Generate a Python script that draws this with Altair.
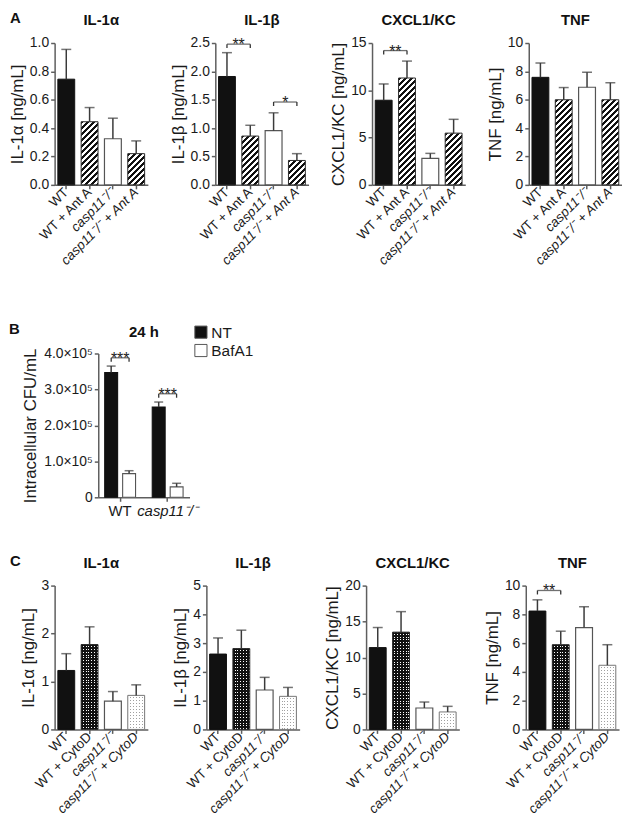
import altair as alt
import pandas as pd

FONT = "Liberation Sans"
AXC = "#5e5e5e"
TXT = "#1a1a1a"
BAR_EDGE = "#2a2a2a"

# ---------------- data ----------------
A_CATS = ["WT", "WT + Ant A", "casp11⁻/⁻", "casp11⁻/⁻ + Ant A"]
C_CATS = ["WT", "WT + CytoD", "casp11⁻/⁻", "casp11⁻/⁻ + CytoD"]

A_IL1A = [0.745, 0.445, 0.325, 0.22]
A_IL1A_UP = [0.955, 0.545, 0.47, 0.31]
A_IL1B = [1.91, 0.86, 0.955, 0.43]
A_IL1B_UP = [2.33, 1.05, 1.27, 0.55]
A_CXCL1 = [8.95, 11.3, 2.8, 5.47]
A_CXCL1_UP = [10.67, 13.09, 3.33, 6.93]
A_TNF = [7.58, 6.0, 6.88, 6.0]
A_TNF_UP = [8.59, 6.86, 7.94, 7.2]

B_GROUPS = ["WT", "casp11⁻/⁻"]
B_TREAT = ["NT", "BafA1"]
B_NT = [3.47e5, 2.51e5]
B_NT_UP = [3.65e5, 2.65e5]
B_BAF = [0.66e5, 0.29e5]
B_BAF_UP = [0.74e5, 0.39e5]

C_IL1A = [1.23, 1.77, 0.59, 0.71]
C_IL1A_UP = [1.58, 2.14, 0.79, 0.93]
C_IL1B = [2.62, 2.81, 1.37, 1.15]
C_IL1B_UP = [3.18, 3.45, 1.81, 1.46]
C_CXCL1 = [11.38, 13.53, 2.98, 2.43]
C_CXCL1_UP = [14.17, 16.38, 3.81, 3.21]
C_TNF = [8.23, 5.89, 7.08, 4.46]
C_TNF_UP = [9.01, 6.83, 8.53, 5.89]

A_KINDS = ["black", "hatch", "white", "hatch"]
C_KINDS = ["black", "dotdark", "white", "dotlight"]

# significance brackets: (left, right, level, stars)
A_IL1B_SIG = [("WT", "WT + Ant A", 2.48, "**"), ("casp11⁻/⁻", "casp11⁻/⁻ + Ant A", 1.46, "*")]
A_CXCL1_SIG = [("WT", "WT + Ant A", 14.2, "**")]
B_SIG = [("WT", 3.88e5, "***"), ("casp11⁻/⁻", 2.88e5, "***")]
C_TNF_SIG = [("WT", "WT + CytoD", 9.66, "**")]

# ---------------- geometry / style ----------------
W = 94
BW = 17
PI, PO = 0.30, 0.15
STEP = W / (4 - PI + 2 * PO)
YT = 17      # y-axis title size
XL = 13.5    # x label size


def _r(v):
    return round(v, 5)


def hatch_fill(w, h, period=6.0, frac=0.5, c1="#111111", c2="#ffffff"):
    h = max(h, 1.0)
    L = w + h
    t = (w + h) / (w * w + h * h)
    p = period / L
    stops = []
    k = 0
    while k * p < 1:
        a = k * p
        b = min((k + frac) * p, 1.0)
        c = min((k + 1) * p, 1.0)
        stops += [{"offset": _r(a), "color": c1}, {"offset": _r(b), "color": c1},
                  {"offset": _r(b), "color": c2}, {"offset": _r(c), "color": c2}]
        k += 1
    return {"gradient": "linear", "x1": 0, "y1": 0, "x2": _r(w * t), "y2": _r(h * t), "stops": stops}


def stripe_fill(length, period, gap, color, along_y):
    length = max(length, 1.0)
    p = period / length
    g = gap / length
    stops = []
    k = 0
    while k * p < 1:
        a = k * p
        b = min(a + p - g, 1.0)
        c = min((k + 1) * p, 1.0)
        stops += [{"offset": _r(a), "color": color}, {"offset": _r(b), "color": color},
                  {"offset": _r(b), "color": "transparent"}, {"offset": _r(c), "color": "transparent"}]
        k += 1
    return {"gradient": "linear", "x1": 0, "y1": 0,
            "x2": 0 if along_y else 1, "y2": 1 if along_y else 0, "stops": stops}


ITALIC = {"condition": {"test": "indexof(datum.value, 'casp') === 0", "value": "italic"}, "value": "normal"}


def text_layer(txt, x, y, align="left", size=15, opacity=1):
    return alt.Chart(pd.DataFrame({"t": [txt]})).mark_text(
        x=x, y=y, align=align, baseline="alphabetic", fontSize=size, fontWeight="bold",
        font=FONT, color="#111", opacity=opacity).encode(text="t:N")


def panel(title, ytitle, cats, vals, ups, ymax, ticks, fmt, kinds, sig, H, tpad,
          letter=None):
    df = pd.DataFrame({"cat": cats, "val": vals, "up": ups})
    xs = alt.Scale(domain=cats, paddingInner=PI, paddingOuter=PO)
    ys = alt.Scale(domain=[0, ymax], nice=False, zero=True)
    xaxis = alt.Axis(title=None, labelAngle=-45, labelAlign="right", labelBaseline="middle",
                     labelFontSize=XL, labelFontStyle=ITALIC, tickSize=4, labelPadding=1)
    yaxis = alt.Axis(title=ytitle, values=ticks, format=fmt, titlePadding=tpad,
                     labelFontSize=14, titleFontSize=YT, tickSize=4, labelPadding=2)

    def X(f="cat"):
        return alt.X(f"{f}:N", scale=xs, axis=xaxis, sort=cats)

    def Y(f):
        return alt.Y(f"{f}:Q", scale=ys, axis=yaxis)

    base = alt.Chart(df)
    layers = []
    for c, v, k in zip(cats, vals, kinds):
        h = v / ymax * H
        sub = base.transform_filter(alt.FieldEqualPredicate(field="cat", equal=c))
        enc = dict(x=X(), y=Y("val"))
        if k == "black":
            layers.append(sub.mark_bar(width=BW, fill="#111111", stroke="#111111", strokeWidth=1).encode(**enc))
        elif k == "white":
            layers.append(sub.mark_bar(width=BW, fill="#ffffff", stroke="#555555", strokeWidth=1.2).encode(**enc))
        elif k == "hatch":
            layers.append(sub.mark_bar(width=BW, fill=hatch_fill(BW, h), stroke=BAR_EDGE, strokeWidth=1).encode(**enc))
        elif k == "dotdark":
            layers.append(sub.mark_bar(width=BW, fill="#ffffff", strokeWidth=0).encode(**enc))
            layers.append(sub.mark_bar(width=BW, fill=stripe_fill(BW, 2.8, 1.0, "#111111", False), strokeWidth=0).encode(**enc))
            layers.append(sub.mark_bar(width=BW, fill=stripe_fill(h, 2.8, 1.0, "#111111", True), strokeWidth=0).encode(**enc))
            layers.append(sub.mark_bar(width=BW, fillOpacity=0, stroke=BAR_EDGE, strokeWidth=1).encode(**enc))
        elif k == "dotlight":
            layers.append(sub.mark_bar(width=BW, fill="#a0a0a0", strokeWidth=0).encode(**enc))
            layers.append(sub.mark_bar(width=BW, fill=stripe_fill(BW, 3.0, 1.0, "#ffffff", False), strokeWidth=0).encode(**enc))
            layers.append(sub.mark_bar(width=BW, fill=stripe_fill(h, 3.0, 1.0, "#ffffff", True), strokeWidth=0).encode(**enc))
            layers.append(sub.mark_bar(width=BW, fillOpacity=0, stroke="#777777", strokeWidth=1).encode(**enc))
    # error bars (upper only)
    layers.append(base.mark_rule(color="#3a3a3a", strokeWidth=1.5).encode(x=X(), y=Y("val"), y2="up"))
    layers.append(base.mark_tick(color="#3a3a3a", thickness=1.5, size=10).encode(x=X(), y=Y("up")))
    if sig:
        d = ymax * 4.0 / H
        sdf = pd.DataFrame({"a": [s[0] for s in sig], "b": [s[1] for s in sig],
                            "L": [s[2] for s in sig], "Ld": [s[2] - d for s in sig],
                            "s": [s[3] for s in sig]})
        sb = alt.Chart(sdf)
        layers.append(sb.mark_tick(color="#333333", thickness=1.3, size=STEP, xOffset=STEP / 2).encode(x=X("a"), y=Y("L")))
        layers.append(sb.mark_rule(color="#333333", strokeWidth=1.3).encode(x=X("a"), y=Y("L"), y2="Ld"))
        layers.append(sb.mark_rule(color="#333333", strokeWidth=1.3).encode(x=X("b"), y=Y("L"), y2="Ld"))
        layers.append(sb.mark_text(dx=STEP / 2, dy=6, baseline="alphabetic", fontSize=16, font=FONT,
                                   color="#222").encode(x=X("a"), y=Y("L"), text="s:N"))
    layers.append(text_layer(title, W / 2, -18, align="center"))
    if letter:
        layers.append(text_layer(letter, -45, -20))
    return alt.layer(*layers).properties(width=W, height=H)


# ---------------- panel B ----------------
def panel_b():
    rows = []
    for g, nt, ntu, bf, bfu in zip(B_GROUPS, B_NT, B_NT_UP, B_BAF, B_BAF_UP):
        rows.append({"g": g, "t": "NT", "val": nt, "up": ntu})
        rows.append({"g": g, "t": "BafA1", "val": bf, "up": bfu})
    df = pd.DataFrame(rows)
    HB = 145
    WB = 92
    xs = alt.Scale(domain=B_GROUPS, paddingInner=0.2, paddingOuter=0.06)
    xos = alt.Scale(domain=B_TREAT, paddingInner=0.28, paddingOuter=0.2)
    ys = alt.Scale(domain=[0, 4e5], nice=False)
    xaxis = alt.Axis(title=None, labelAngle=0, labelFontSize=15, labelFontStyle=ITALIC,
                     tickSize=4, labelPadding=2)
    yaxis = alt.Axis(title="Intracellular CFU/mL", values=[0, 1e5, 2e5, 3e5, 4e5],
                     labelExpr="datum.value == 0 ? '0' : format(datum.value / 100000, '.1f') + '×10⁵'",
                     labelFontSize=14, titleFontSize=YT, titlePadding=4, tickSize=4, labelPadding=2)

    def X(f="g"):
        return alt.X(f"{f}:N", scale=xs, axis=xaxis, sort=B_GROUPS)

    def Y(f):
        return alt.Y(f"{f}:Q", scale=ys, axis=yaxis)

    fills = {"NT": "#111111", "BafA1": "#ffffff"}
    strokes = {"NT": "#111111", "BafA1": "#555555"}
    xo = alt.XOffset("t:N", scale=xos, sort=B_TREAT)
    base = alt.Chart(df)
    bars = base.mark_bar(strokeWidth=1.1).encode(
        x=X(), xOffset=xo, y=Y("val"),
        fill=alt.Fill("t:N", scale=alt.Scale(domain=B_TREAT, range=[fills[t] for t in B_TREAT]), legend=None),
        stroke=alt.Stroke("t:N", scale=alt.Scale(domain=B_TREAT, range=[strokes[t] for t in B_TREAT]), legend=None),
    )
    err = base.mark_rule(color="#3a3a3a", strokeWidth=1.5).encode(x=X(), xOffset=xo, y=Y("val"), y2="up")
    cap = base.mark_tick(color="#3a3a3a", thickness=1.5, size=9).encode(x=X(), xOffset=xo, y=Y("up"))
    sdf = pd.DataFrame({"g": [s[0] for s in B_SIG], "L": [s[1] for s in B_SIG],
                        "Ld": [s[1] - 4e5 * 4 / HB for s in B_SIG], "s": [s[2] for s in B_SIG]})
    sb = alt.Chart(sdf)
    half = 9
    br = sb.mark_tick(color="#333333", thickness=1.3, size=2 * half).encode(x=X(), y=Y("L"))
    bl = sb.mark_rule(color="#333333", strokeWidth=1.3, xOffset=-half).encode(x=X(), y=Y("L"), y2="Ld")
    brr = sb.mark_rule(color="#333333", strokeWidth=1.3, xOffset=half).encode(x=X(), y=Y("L"), y2="Ld")
    st = sb.mark_text(dy=6, baseline="alphabetic", fontSize=16, font=FONT, color="#222").encode(
        x=X(), y=Y("L"), text="s:N")
    layers = [bars, err, cap, br, bl, brr, st,
              text_layer("24 h", WB / 2, -17, align="center"),
              text_layer("B", -90, -20),
              # invisible spacer that reserves the gap above panel B
              text_layer("B", -90, -38, opacity=0)]
    # legend
    for i, t in enumerate(B_TREAT):
        ly = -21.5 + 18.5 * i
        ldf = pd.DataFrame({"t": [t]})
        layers.append(alt.Chart(ldf).mark_square(x=103.5, y=ly, size=150, fill=fills[t], fillOpacity=1,
                                                 stroke="#555555", strokeWidth=1).encode(text="t:N"))
        layers.append(alt.Chart(ldf).mark_text(x=114, y=ly + 5.5, align="left", baseline="alphabetic",
                                               fontSize=15.5, font=FONT, color=TXT).encode(text="t:N"))
    return alt.layer(*layers).properties(width=WB, height=HB)


HA = 143
HC = 145
rowA = alt.hconcat(
    panel("IL-1α", "IL-1α [ng/mL]", A_CATS, A_IL1A, A_IL1A_UP, 1.0, [0, 0.2, 0.4, 0.6, 0.8, 1.0], ".1f",
          A_KINDS, None, HA, 3, letter="A"),
    panel("IL-1β", "IL-1β [ng/mL]", A_CATS, A_IL1B, A_IL1B_UP, 2.5, [0, 0.5, 1.0, 1.5, 2.0, 2.5], ".1f",
          A_KINDS, A_IL1B_SIG, HA, 3),
    panel("CXCL1/KC", "CXCL1/KC [ng/mL]", A_CATS, A_CXCL1, A_CXCL1_UP, 15, [0, 5, 10, 15], "d",
          A_KINDS, A_CXCL1_SIG, HA, 3),
    panel("TNF", "TNF [ng/mL]", A_CATS, A_TNF, A_TNF_UP, 10, [0, 2, 4, 6, 8, 10], "d",
          A_KINDS, None, HA, 3),
    spacing=21,
)

# row B: an empty 1px cell shifts panel B right; flush bounds ignore its axis extent
spacer = alt.Chart(pd.DataFrame({"t": [""]})).mark_text(opacity=0).encode(text="t:N").properties(width=1, height=1)
rowB = alt.hconcat(spacer, panel_b(), spacing=43, bounds="flush")

rowC = alt.hconcat(
    panel("IL-1α", "IL-1α [ng/mL]", C_CATS, C_IL1A, C_IL1A_UP, 3, [0, 1, 2, 3], "d",
          C_KINDS, None, HC, 3, letter="C"),
    panel("IL-1β", "IL-1β [ng/mL]", C_CATS, C_IL1B, C_IL1B_UP, 5, [0, 1, 2, 3, 4, 5], "d",
          C_KINDS, None, HC, 3),
    panel("CXCL1/KC", "CXCL1/KC [ng/mL]", C_CATS, C_CXCL1, C_CXCL1_UP, 20, [0, 5, 10, 15, 20], "d",
          C_KINDS, None, HC, 3),
    panel("TNF", "TNF [ng/mL]", C_CATS, C_TNF, C_TNF_UP, 10, [0, 2, 4, 6, 8, 10], "d",
          C_KINDS, C_TNF_SIG, HC, 3),
    spacing=24,
)

chart = alt.concat(rowA, rowB, rowC, columns=1, spacing=36).properties(
    padding={"left": 0, "top": 0, "right": 0, "bottom": 0}
).configure(font=FONT).configure_view(stroke=None).configure_axis(
    domainColor=AXC, tickColor=AXC, domainWidth=1.5, tickWidth=1.5,
    labelColor=TXT, titleColor=TXT, labelFont=FONT, titleFont=FONT,
    titleFontWeight="normal", grid=False,
)

chart.save("out.html", embed_options={"renderer": "svg", "actions": False})
